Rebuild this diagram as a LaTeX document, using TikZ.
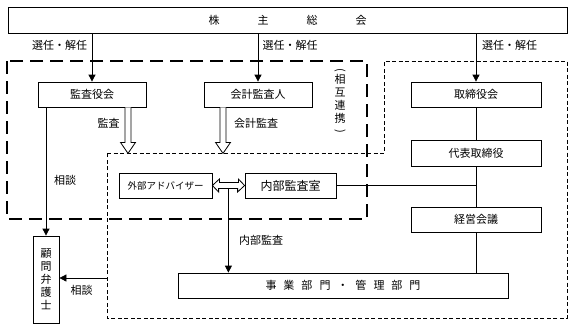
\documentclass[tikz,border=0pt]{standalone}
\usepackage{fontspec}
\usepackage{graphicx}
\setmainfont{Noto Sans CJK JP}
\usetikzlibrary{arrows.meta,calc}
\newcommand\jgap{\hspace{7pt}}
\newcommand\kgap{\hspace{38pt}}
\newcommand\vparen[1]{\rotatebox[origin=c]{-90}{#1}}
\begin{document}
\begin{tikzpicture}[x=1pt,y=-1pt,
 box/.style={draw,line width=0.8pt,minimum height=25pt,inner sep=0pt,font=\fontsize{11}{13}\selectfont},
 lbl/.style={font=\fontsize{11}{13}\selectfont,inner sep=0pt},
 arr/.style={line width=0.8pt,-{Triangle[length=7pt,width=7pt]}},
 ln/.style={line width=0.8pt},
 longdash/.style={line width=1.6pt,dash pattern=on 13pt off 7pt},
 shortdash/.style={line width=0.8pt,dash pattern=on 4pt off 2.5pt}]
\useasboundingbox (0,0) rectangle (573,330);

% frames
\draw[longdash] (7,61) rectangle (367,219);
\draw[shortdash] (107,153) -- (384,153) -- (384,61) -- (567,61) -- (567,318) -- (107,318) -- cycle;

% nodes
\node[box,minimum width=559pt,minimum height=26pt] (top) at (287.5,20) {株\kgap 主\kgap 総\kgap 会};
\node[box,minimum width=108pt] (kansa) at (92,94.5) {監査役会};
\node[box,minimum width=108pt] (kaikei) at (258,94.5) {会計監査人};
\node[box,minimum width=130pt] (tori) at (476,94.5) {取締役会};
\node[box,minimum width=130pt,minimum height=26pt] (daihyo) at (476,153) {代表取締役};
\node[box,minimum width=130pt] (keiei) at (476,219.5) {経営会議};
\node[box,minimum width=330pt] (jigyo) at (343,285.5) {事\jgap 業\jgap 部\jgap 門\jgap ・\jgap 管\jgap 理\jgap 部\jgap 門};
\node[box,minimum width=93pt,font=\fontsize{9.5}{11}\selectfont] (gaibu) at (165.5,185.5) {外部アドバイザー};
\node[box,minimum width=91pt,font=\fontsize{12}{14}\selectfont] (naibu) at (290.5,185.5) {内部監査室};
\node[box,minimum width=26pt,minimum height=87pt,align=center,font=\fontsize{11}{13}\selectfont] (komon) at (46,279.5) {顧\\問\\弁\\護\\士};

% labels
\node[lbl] (l1) at (59.5,45) {選任・解任};
\node[lbl] (l2) at (290,45) {選任・解任};
\node[lbl] (l3) at (509.5,45) {選任・解任};
\node[lbl] (l4) at (108.5,123) {監査};
\node[lbl] (l5) at (256,123) {会計監査};
\node[lbl] (l6) at (65,180) {相談};
\node[lbl] (l7) at (81.5,290) {相談};
\node[lbl] (l8) at (261,240) {内部監査};
\node[lbl,align=center,font=\fontsize{11}{13}\selectfont] (l9) at (340,101.5) {\vparen{(}\\[-3pt]相\\互\\連\\携\\[-1pt]\vparen{)}};

% election arrows
\draw[arr] (kansa.north |- top.south) -- (kansa.north);
\draw[arr] (kaikei.north |- top.south) -- (kaikei.north);
\draw[arr] (tori.north |- top.south) -- (tori.north);

% hollow audit arrows
\coordinate (h1) at ($(kansa.south)+(36,0)$);
\coordinate (h2) at ($(kaikei.south)+(-35,0)$);
\foreach \h in {h1,h2}{
 \draw[ln,fill=white] ($(\h)+(-3,0)$) -- ++(0,35) -- ++(-4.5,0) -- ($(\h)+(0,46)$) -- ($(\h)+(7.5,35)$) -- ++(-4.5,0) -- ($(\h)+(3,0)$);
}

% consult lines
\draw[arr] (komon.north |- kansa.south) -- (komon.north);
\coordinate (lf) at (107,278);
\draw[arr] (lf) -- (lf -| komon.east);

% double hollow arrow
\draw[ln,fill=white] (gaibu.east) -- ++(7,-6.5) -- ++(0,3.5) -- ++(19,0) -- ++(0,-3.5) -- (naibu.west) -- ++(-7,6.5) -- ++(0,-3.5) -- ++(-19,0) -- ++(0,3.5) -- cycle;
\coordinate (da) at ($(gaibu.east)+(16,3)$);
\draw[arr] (da) -- (da |- jigyo.north);

% management line
\draw[ln] (naibu.east) -- (naibu.east -| daihyo.south);
\draw[ln] (tori.south) -- (daihyo.north);
\draw[ln] (daihyo.south) -- (keiei.north);
\draw[ln] (keiei.south) -- (keiei.south |- jigyo.north);
\end{tikzpicture}
\end{document}
